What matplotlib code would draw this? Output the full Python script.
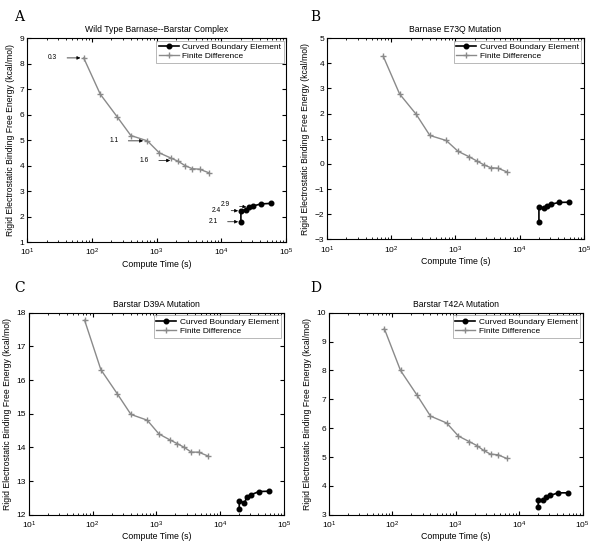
import matplotlib.pyplot as plt
import numpy as np

plt.rcParams['font.family'] = ['Liberation Sans', 'DejaVu Sans']

# tempos de calculo (s)
fd_time = [75, 135, 245, 400, 720, 1100, 1650, 2150, 2750, 3550, 4600, 6400]
bem_time = [2.0e4, 2.0e4, 2.4e4, 2.65e4, 3.1e4, 4.1e4, 5.9e4]

# energias (kcal/mol) por painel
fd_A = [8.22, 6.8, 5.92, 5.18, 4.97, 4.5, 4.3, 4.17, 4.0, 3.88, 3.86, 3.72]
bem_A = [1.8, 2.23, 2.28, 2.36, 2.42, 2.5, 2.52]
fd_B = [4.28, 2.78, 1.97, 1.13, 0.93, 0.5, 0.28, 0.12, -0.03, -0.15, -0.17, -0.32]
bem_B = [-2.3, -1.7, -1.75, -1.67, -1.6, -1.53, -1.52]
fd_C = [17.78, 16.31, 15.59, 14.98, 14.81, 14.4, 14.22, 14.11, 14.0, 13.86, 13.86, 13.75]
bem_C = [12.18, 12.42, 12.35, 12.53, 12.6, 12.69, 12.7]
fd_D = [9.45, 8.0, 7.15, 6.42, 6.18, 5.73, 5.53, 5.4, 5.23, 5.1, 5.08, 4.95]
bem_D = [3.28, 3.5, 3.52, 3.62, 3.67, 3.76, 3.76]

titulos = ['Wild Type Barnase--Barstar Complex', 'Barnase E73Q Mutation',
           'Barstar D39A Mutation', 'Barstar T42A Mutation']
letras = ['A', 'B', 'C', 'D']
ylims = [(1, 9), (-3, 5), (12, 18), (3, 10)]
posicoes = [[0.045, 0.554, 0.432, 0.376], [0.545, 0.559, 0.428, 0.371],
            [0.048, 0.052, 0.425, 0.372], [0.548, 0.052, 0.423, 0.372]]
letra_xy = [(0.024, 0.962), (0.517, 0.962), (0.024, 0.462), (0.517, 0.462)]

# anotacoes do painel A: texto, ponto da seta, ponto do texto
anot_txt = ['0.3', '1.1', '1.6', '2.9', '2.4', '2.1']
anot_xy = [(70, 8.22), (650, 4.97), (1700, 4.2), (2.55e4, 2.37), (1.9e4, 2.23), (1.9e4, 1.8)]
anot_txt_xy = [(25, 8.22), (220, 4.97), (650, 4.2), (1.15e4, 2.47), (8.5e3, 2.24), (7.5e3, 1.8)]

fd = [fd_A, fd_B, fd_C, fd_D]
bem = [bem_A, bem_B, bem_C, bem_D]

fig = plt.figure(figsize=(6, 5.43), dpi=100)
for i in range(4):
    ax = fig.add_axes(posicoes[i])
    ax.semilogx(bem_time, bem[i], '-o', color='k', lw=1.2, ms=3.3, label='Curved Boundary Element')
    ax.semilogx(fd_time, fd[i], '-+', color='#8a8a8a', lw=1.0, ms=5, label='Finite Difference')
    ax.set_xlim(10, 1e5)
    ax.set_ylim(*ylims[i])
    ax.tick_params(which='both', direction='in', top=True, right=True, labelsize=6)
    ax.tick_params(axis='x', pad=3.5)
    ax.tick_params(axis='y', pad=2)
    ax.tick_params(which='major', length=3)
    ax.tick_params(which='minor', length=1.5)
    for s in ax.spines.values():
        s.set_linewidth(0.8)
    ax.set_xlabel('Compute Time (s)', fontsize=6.3, labelpad=1)
    ax.set_ylabel('Rigid Electrostatic Binding Free Energy (kcal/mol)', fontsize=6.2, labelpad=3)
    ax.set_title(titulos[i], fontsize=6.2, pad=4)
    leg = ax.legend(loc='upper right', fontsize=6, fancybox=False, edgecolor='#999999',
                    borderaxespad=0.3, handlelength=2.4, handletextpad=0.4,
                    borderpad=0.3, labelspacing=0.2)
    leg.get_frame().set_linewidth(0.6)
    fig.text(letra_xy[i][0], letra_xy[i][1], letras[i], family='DejaVu Serif', fontsize=10)
    if i == 0:
        for t, xy, txy in zip(anot_txt, anot_xy, anot_txt_xy):
            ax.annotate(t, xy=xy, xytext=txy, fontsize=4.8, va='center', ha='center',
                        arrowprops=dict(arrowstyle='-|>', lw=0.5, color='k', mutation_scale=5,
                                        shrinkA=5, shrinkB=1))

fig.savefig('out.png', dpi=100)
